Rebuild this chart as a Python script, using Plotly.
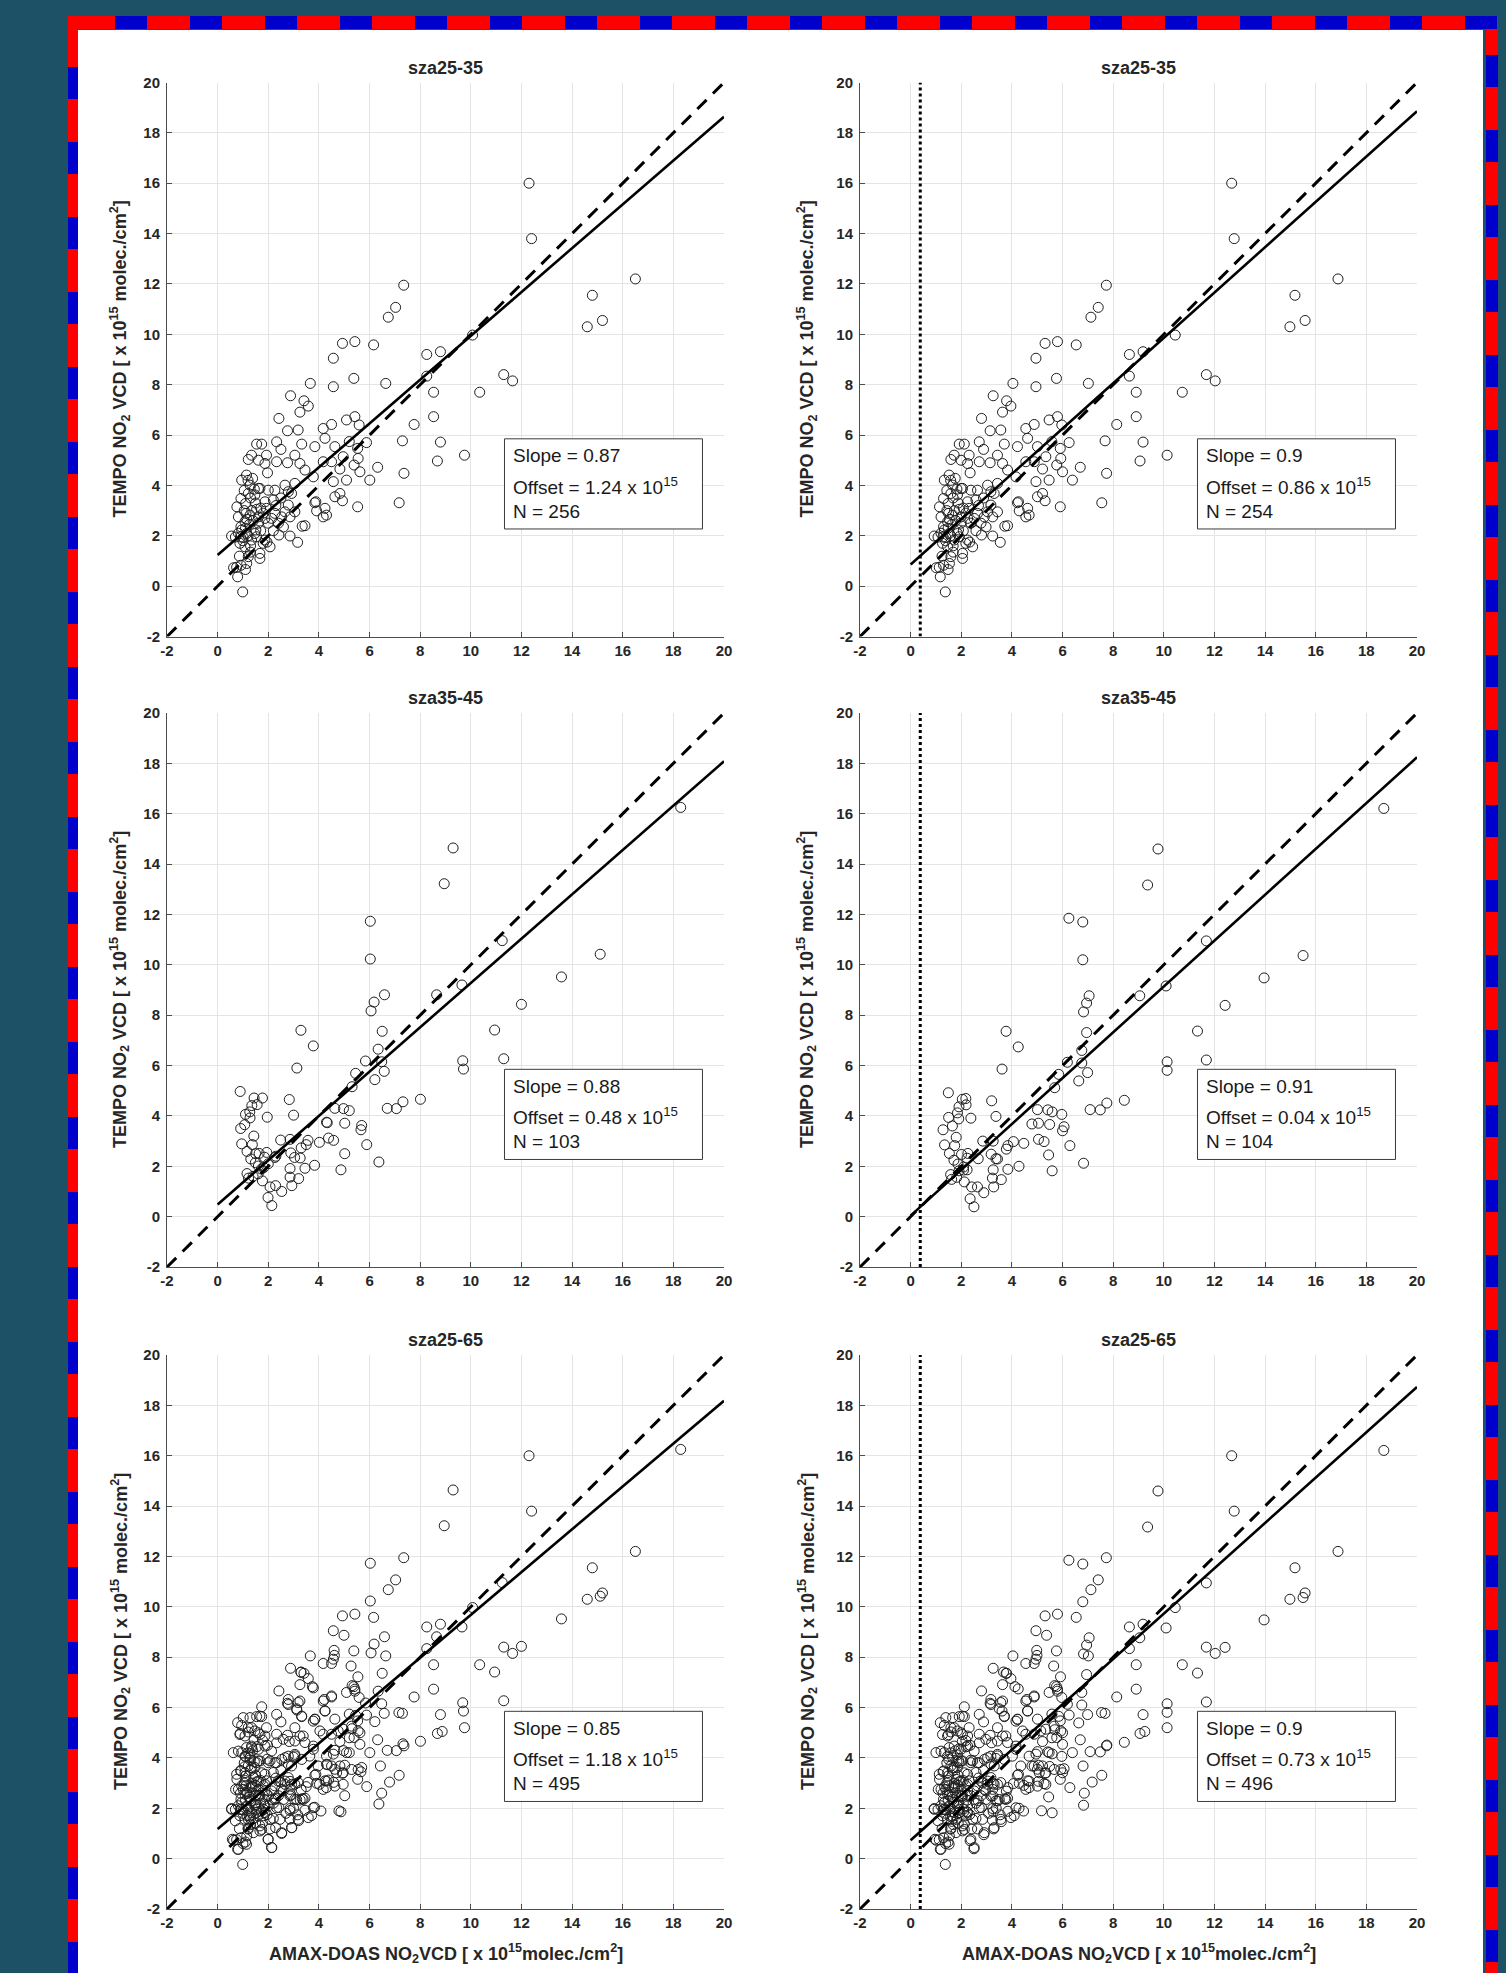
import plotly.graph_objects as go

# ---------------- data ----------------
AXIS_MIN, AXIS_MAX = -2, 20
AXIS_TICKS = [-2, 0, 2, 4, 6, 8, 10, 12, 14, 16, 18, 20]

PANEL_TITLES = ["sza25-35", "sza25-35", "sza35-45", "sza35-45", "sza25-65", "sza25-65"]
SLOPES = [0.87, 0.9, 0.88, 0.91, 0.85, 0.9]
OFFSETS = [1.24, 0.86, 0.48, 0.04, 1.18, 0.73]
SLOPE_TEXT = ["0.87", "0.9", "0.88", "0.91", "0.85", "0.9"]
OFFSET_TEXT = ["1.24", "0.86", "0.48", "0.04", "1.18", "0.73"]
N_TEXT = ["256", "254", "103", "104", "495", "496"]

# vertical dotted line (AMAX-DOAS offset) shown in the right-hand column
AMAX_OFFSET_RIGHT = 0.38

# sza 25-35 : (AMAX-DOAS, TEMPO)
sza25_35_pts = [
    (12.30, 16.00), (12.40, 13.80), (16.50, 12.20), (14.80, 11.55), (15.20, 10.55), (14.60, 10.30),
    (7.35, 11.95), (7.03, 11.07), (6.74, 10.68), (10.07, 9.97), (8.26, 9.20), (8.80, 9.31), (11.30, 8.40),
    (11.65, 8.15), (10.35, 7.70), (8.26, 8.34), (8.53, 7.70), (8.53, 6.73), (8.80, 5.72), (8.68, 4.97),
    (9.75, 5.20), (7.76, 6.42), (7.30, 5.77), (7.36, 4.48), (7.17, 3.31), (6.64, 8.05), (6.16, 9.58),
    (5.42, 9.71), (4.93, 9.64), (4.57, 9.05), (5.38, 8.25), (4.57, 7.92), (3.66, 8.05), (2.88, 7.56),
    (3.41, 7.36), (3.58, 7.15), (3.25, 6.91), (2.42, 6.66),
    (5.42, 6.73), (5.09, 6.60), (5.59, 6.40), (6.32, 4.72), (6.01, 4.21), (5.88, 5.70), (5.53, 5.47),
    (5.55, 5.07), (5.62, 4.54), (5.39, 4.81), (5.53, 3.15), (4.93, 3.39), (4.83, 3.68), (4.63, 3.55),
    (4.24, 3.09), (4.30, 2.82), (4.17, 2.75), (3.91, 2.99), (3.88, 3.35), (3.45, 2.40), (3.16, 1.74),
    (2.86, 1.99), (2.42, 2.03), (3.34, 2.38),
    (4.17, 4.94), (4.24, 5.87), (4.17, 6.26), (4.50, 6.42), (4.63, 5.54), (4.50, 4.94), (4.57, 4.15),
    (4.83, 4.65), (4.96, 5.14), (5.20, 5.74), (5.09, 4.21), (3.84, 5.54), (3.78, 4.34), (3.84, 3.31),
    (2.76, 6.17), (3.18, 6.20), (2.33, 5.73), (2.50, 5.43), (2.33, 4.94), (2.76, 4.90), (3.05, 5.20),
    (3.32, 5.64), (3.25, 4.87), (3.45, 4.61), (2.92, 3.68), (3.05, 4.08), (2.66, 4.01), (2.79, 3.75),
    (2.79, 3.22), (2.53, 2.75), (2.86, 2.75), (3.05, 2.95), (2.66, 2.95), (2.26, 2.89), (2.13, 2.69),
    (1.93, 3.09),
    (0.99, -0.23), (0.79, 0.37), (0.63, 0.73), (1.10, 0.66), (0.92, 0.83), (0.86, 1.19), (1.21, 1.17),
    (1.67, 1.10), (1.67, 1.30), (0.55, 1.99), (0.82, 2.10), (1.01, 1.93), (1.14, 2.09), (0.88, 1.70),
    (1.08, 1.56), (1.34, 1.83), (1.54, 1.96), (1.51, 2.23), (1.87, 1.83), (2.07, 1.56), (1.08, 2.56),
    (0.82, 2.75), (1.28, 2.82), (1.61, 2.75), (1.87, 2.69), (1.54, 3.05), (1.10, 3.28), (0.92, 3.48),
    (1.21, 3.68), (1.61, 3.88), (2.00, 3.81), (2.26, 3.81), (2.20, 3.42), (1.87, 3.35), (0.95, 4.21),
    (1.14, 4.41), (1.38, 4.28), (1.28, 4.01), (1.21, 5.03), (1.34, 5.20), (1.61, 5.00), (1.87, 4.87),
    (1.93, 5.20), (1.54, 5.64), (1.74, 5.64), (1.97, 4.50), (1.67, 3.88), (1.47, 3.62), (1.12, 2.89),
    (0.76, 3.15), (0.92, 2.36), (1.47, 2.09), (0.95, 2.23),
    (1.00, 1.80), (1.20, 2.00), (1.30, 1.60), (0.90, 1.95), (1.10, 2.30), (1.25, 2.45), (1.40, 2.60),
    (1.60, 2.50), (1.70, 2.20), (1.15, 2.65), (1.35, 3.00), (1.50, 3.30), (1.05, 3.00), (1.30, 3.50),
    (1.45, 3.85), (1.20, 4.20), (1.05, 3.80), (1.70, 3.10), (1.80, 2.90), (2.00, 2.50), (2.20, 2.20),
    (2.40, 2.50), (2.60, 2.35), (2.30, 3.20), (2.50, 3.50), (1.80, 1.70), (1.95, 1.75), (0.75, 0.75),
    (1.15, 0.90), (1.30, 1.35), (0.70, 1.95),
]

# sza 35-45, left column
sza35_45_pts = [
    (18.29, 16.25), (9.30, 14.64), (8.95, 13.22), (6.03, 11.73), (6.03, 10.23), (11.24, 10.96),
    (15.11, 10.42), (13.58, 9.52), (9.65, 9.20), (8.65, 8.81), (6.59, 8.81), (6.18, 8.52), (6.06, 8.17),
    (12.00, 8.43), (10.94, 7.41), (6.50, 7.36), (3.29, 7.40), (3.78, 6.78), (6.34, 6.65), (3.13, 5.90),
    (5.84, 6.18), (6.48, 6.15), (9.68, 6.19), (9.71, 5.86), (11.30, 6.27), (6.58, 5.77), (5.45, 5.69),
    (6.21, 5.44), (5.31, 5.16),
    (6.70, 4.30), (7.06, 4.29), (7.32, 4.56), (8.01, 4.66), (4.63, 4.30), (4.97, 4.29), (5.20, 4.21),
    (5.02, 3.71), (4.30, 3.75), (5.69, 3.62), (5.66, 3.45), (4.38, 3.12), (4.58, 3.03), (4.02, 2.95),
    (5.89, 2.86), (5.02, 2.50), (4.87, 1.86), (6.37, 2.17), (3.57, 3.03), (3.50, 2.86), (3.30, 2.73),
    (3.00, 4.03), (2.83, 4.65), (3.83, 2.04), (3.45, 1.92), (3.20, 1.51), (2.93, 1.23), (2.86, 1.57),
    (2.86, 1.91), (3.04, 2.35), (2.89, 2.53), (2.86, 3.07), (2.49, 3.04), (2.53, 1.00), (2.29, 1.23),
    (2.07, 1.18), (1.99, 0.76), (2.14, 0.44), (1.96, 3.95), (1.85, 2.36), (1.94, 2.55), (1.77, 4.71),
    (1.56, 4.45), (1.44, 4.71), (1.35, 4.41), (1.27, 4.16), (1.10, 4.06), (1.28, 3.92), (1.07, 3.65),
    (0.91, 3.50), (0.89, 4.97), (0.95, 2.89), (1.43, 3.20), (1.37, 2.86), (1.16, 2.59), (1.31, 2.29),
    (1.64, 2.51), (1.49, 2.14), (1.61, 2.01), (1.82, 1.95), (1.16, 1.71), (1.22, 1.53), (1.40, 1.60),
    (1.77, 1.42), (1.73, 1.89), (2.26, 2.35), (3.26, 2.33), (4.33, 3.73), (1.60, 1.70), (2.00, 2.10),
    (2.30, 2.40), (1.50, 2.50),
]

# sza 35-45, right column (read separately: individual points differ)
sza35_45_right_pts = [
    (18.69, 16.21), (9.77, 14.60), (9.36, 13.17), (6.25, 11.85), (6.80, 11.70), (6.80, 10.20),
    (11.68, 10.95), (15.50, 10.37), (13.96, 9.48), (10.09, 9.16), (9.05, 8.77), (7.05, 8.77),
    (6.95, 8.48), (6.83, 8.13), (12.42, 8.39), (11.33, 7.37), (6.95, 7.31), (3.77, 7.36), (4.25, 6.74),
    (6.76, 6.60), (3.61, 5.86), (6.19, 6.13), (6.76, 6.10), (10.13, 6.15), (10.13, 5.81), (11.68, 6.22),
    (6.99, 5.72), (5.85, 5.65), (6.64, 5.39), (5.69, 5.12),
    (7.09, 4.25), (7.49, 4.24), (7.75, 4.51), (8.44, 4.62), (5.01, 4.25), (5.42, 4.24), (5.59, 4.16),
    (5.49, 3.66), (4.79, 3.68), (5.05, 3.71), (5.97, 4.06), (6.06, 3.57), (6.00, 3.41), (5.05, 3.07),
    (5.27, 2.98), (4.47, 2.91), (6.29, 2.82), (5.45, 2.45), (5.59, 1.82), (6.83, 2.12), (4.06, 2.98),
    (3.84, 2.82), (3.78, 2.68), (3.37, 3.98), (3.20, 4.60), (4.28, 2.00), (3.84, 1.88), (3.58, 1.47),
    (3.28, 1.18), (3.23, 1.53), (3.26, 1.86), (3.37, 2.30), (3.18, 2.48), (3.26, 3.00), (2.85, 3.00),
    (2.89, 0.95), (2.64, 1.18), (2.41, 1.18), (2.35, 0.71), (2.50, 0.39), (2.38, 3.91), (2.23, 2.32),
    (2.26, 2.51), (2.18, 4.69), (2.19, 4.44), (2.04, 4.66), (1.91, 4.36), (1.85, 4.12), (1.50, 3.94),
    (1.90, 3.88), (1.65, 3.60), (1.28, 3.45), (1.49, 4.92), (1.34, 2.85), (1.80, 3.15), (1.74, 2.82),
    (1.53, 2.51), (1.71, 2.24), (2.01, 2.47), (1.87, 2.09), (2.09, 1.97), (2.23, 1.86), (1.58, 1.67),
    (1.62, 1.48), (1.82, 1.56), (2.12, 1.38), (2.09, 1.85), (2.67, 2.30), (3.43, 2.29), (1.91, 1.82),
]

# remaining points of the sza 25-65 panels (sza 45-65)
sza45_65_pts = [
    (1.74, 6.03), (0.79, 5.40), (1.01, 5.60), (1.28, 5.60), (1.67, 5.66), (0.95, 5.29), (1.21, 5.20),
    (0.88, 4.93), (1.08, 4.87), (1.47, 5.07), (1.67, 4.93),
    (2.79, 6.32), (2.79, 6.12), (3.12, 5.95), (3.29, 7.41), (3.74, 6.83), (3.25, 6.26), (3.32, 5.66),
    (3.84, 5.53), (4.17, 7.75), (4.50, 7.75), (4.61, 8.07), (4.99, 8.87), (5.27, 7.65), (5.54, 7.22),
    (5.31, 6.87), (5.38, 6.83), (5.42, 6.65), (4.50, 6.46), (4.21, 6.32), (4.24, 5.86), (3.78, 5.46),
    (4.04, 5.07), (4.76, 5.07), (5.29, 5.26), (5.20, 4.80), (5.62, 5.00), (7.16, 5.80), (8.87, 5.05),
    (6.79, 3.04), (6.48, 2.60), (6.43, 3.68), (4.08, 1.89), (3.71, 1.71), (4.79, 1.90), (4.60, 8.27),
    (0.62, 4.21), (0.82, 4.27), (1.08, 4.07), (1.34, 4.47), (1.61, 4.34), (1.87, 4.47), (2.13, 4.27),
    (2.07, 3.88), (2.33, 3.81), (2.53, 3.94), (2.79, 4.07), (3.05, 4.14), (3.32, 3.94), (3.64, 4.07),
    (0.75, 3.35), (0.71, 2.75), (1.01, 2.75), (1.34, 2.88), (1.61, 3.08), (1.87, 2.95), (2.39, 3.08),
    (2.66, 3.08), (2.92, 2.95), (3.18, 3.02), (2.59, 2.69), (2.86, 2.49), (3.12, 2.35), (3.38, 2.35),
    (3.78, 2.02), (3.58, 1.63), (3.18, 1.56), (2.92, 1.23), (2.53, 1.03), (2.13, 0.44), (2.00, 0.77),
    (1.74, 1.16), (1.41, 1.03), (1.14, 0.57), (0.82, 0.37), (0.58, 0.77), (0.95, 1.96), (0.55, 1.96),
    (1.28, 1.69), (1.54, 1.83), (1.87, 2.09), (2.13, 2.35), (2.33, 2.02), (2.46, 1.56), (1.28, 2.35),
    (1.67, 2.49), (1.08, 3.41), (1.34, 3.61), (1.54, 3.81), (1.74, 3.41), (2.33, 4.60), (2.59, 4.74),
    (3.05, 4.67), (3.38, 4.87), (3.78, 4.47), (3.97, 3.68), (4.30, 4.07), (4.50, 3.68), (4.70, 3.41),
    (4.30, 3.08), (4.63, 2.88), (4.96, 2.95), (4.96, 3.41), (5.29, 3.54), (5.55, 3.54),
    (1.00, 0.60), (0.70, 1.50), (1.20, 1.20), (1.50, 1.40), (2.20, 1.60), (2.70, 1.80), (3.00, 2.00),
    (0.90, 2.60), (1.10, 3.10), (1.50, 2.90),
]


def shifted(pts, dx):
    return [(x + dx, y) for x, y in pts]


panel_points = [
    sza25_35_pts,
    shifted(sza25_35_pts, AMAX_OFFSET_RIGHT),
    sza35_45_pts,
    sza35_45_right_pts,
    sza25_35_pts + sza35_45_pts + sza45_65_pts,
    shifted(sza25_35_pts, AMAX_OFFSET_RIGHT) + sza35_45_right_pts + shifted(sza45_65_pts, AMAX_OFFSET_RIGHT),
]
right_column = [False, True, False, True, False, True]

# ---------------- layout geometry (pixels of the 1506 x 1973 page) ----------------
W, H = 1506, 1973
COL_X = [(167, 724), (860, 1417)]
ROW_Y = [(82.5, 636.5), (713, 1267), (1355, 1909)]
YLABEL_GAP = [47, 53]

FONT = "Liberation Sans, Arial, sans-serif"
TXT = "#262626"
AXC = "#4d4d4d"


def px_x(p):
    return p / W


def px_y(p):
    return 1 - p / H


fig = go.Figure()
layout_axes = {}
annotations = []
shapes = []

for i in range(6):
    row, col = divmod(i, 2)
    n = i + 1
    xs = "" if n == 1 else str(n)
    xa, ya = "x" + xs, "y" + xs
    cx0, cx1 = COL_X[col]
    ry0, ry1 = ROW_Y[row]

    common = dict(
        range=[AXIS_MIN, AXIS_MAX], tickmode="array", tickvals=AXIS_TICKS,
        ticktext=[str(t) for t in AXIS_TICKS],
        ticks="inside", ticklen=5, tickwidth=1, tickcolor=AXC,
        showline=True, linecolor=AXC, linewidth=1, mirror=False,
        showgrid=True, gridcolor="#e4e4e4", gridwidth=1, zeroline=False,
        tickfont=dict(family=FONT, size=15, color=TXT, weight="bold"),
        fixedrange=True, automargin=False,
    )
    layout_axes["xaxis" + xs] = dict(common, domain=[px_x(cx0), px_x(cx1)], anchor=ya,
                                     ticklabelstandoff=0)
    layout_axes["yaxis" + xs] = dict(common, domain=[px_y(ry1), px_y(ry0)], anchor=xa,
                                     ticklabelstandoff=3)

    pts = panel_points[i]
    fig.add_trace(go.Scatter(
        x=[p[0] for p in pts], y=[p[1] for p in pts], mode="markers",
        marker=dict(symbol="circle-open", size=10, color="#1e1e1e", line=dict(width=1)),
        xaxis=xa, yaxis=ya, showlegend=False, hoverinfo="skip"))

    # 1:1 line
    fig.add_trace(go.Scatter(
        x=[AXIS_MIN, AXIS_MAX], y=[AXIS_MIN, AXIS_MAX], mode="lines",
        line=dict(color="black", width=3, dash="13px,9px"),
        xaxis=xa, yaxis=ya, showlegend=False, hoverinfo="skip"))
    # regression line
    fig.add_trace(go.Scatter(
        x=[0, AXIS_MAX], y=[OFFSETS[i], SLOPES[i] * AXIS_MAX + OFFSETS[i]], mode="lines",
        line=dict(color="black", width=2.6),
        xaxis=xa, yaxis=ya, showlegend=False, hoverinfo="skip"))
    if right_column[i]:
        fig.add_trace(go.Scatter(
            x=[AMAX_OFFSET_RIGHT, AMAX_OFFSET_RIGHT], y=[AXIS_MIN, AXIS_MAX], mode="lines",
            line=dict(color="black", width=3, dash="dot"),
            xaxis=xa, yaxis=ya, showlegend=False, hoverinfo="skip"))

    # statistics box
    shapes.append(dict(type="rect", xref=xa, yref=ya, x0=11.33, x1=19.15, y0=2.27, y1=5.85,
                       line=dict(color="#3c3c3c", width=1), fillcolor="white", layer="above"))
    box_font = dict(family=FONT, size=19, color="#1a1a1a")
    for txt, yy in [("Slope = " + SLOPE_TEXT[i], 5.18),
                    ("Offset = " + OFFSET_TEXT[i] + " x 10<sup>15</sup>", 3.98),
                    ("N = " + N_TEXT[i], 2.97)]:
        annotations.append(dict(xref=xa, yref=ya, x=11.6, y=yy, text=txt, showarrow=False,
                                xanchor="left", yanchor="middle", font=box_font))

    # panel title
    annotations.append(dict(xref="paper", yref="paper", x=px_x((cx0 + cx1) / 2), y=px_y(ry0 - 15),
                            text=PANEL_TITLES[i], showarrow=False, xanchor="center", yanchor="middle",
                            font=dict(family=FONT, size=18, color=TXT, weight="bold")))
    # y-axis title
    annotations.append(dict(xref="paper", yref="paper", x=px_x(cx0 - YLABEL_GAP[col]),
                            y=px_y((ry0 + ry1) / 2),
                            text="TEMPO NO<sub>2</sub> VCD [ x 10<sup>15</sup> molec./cm<sup>2</sup>]",
                            textangle=-90, showarrow=False, xanchor="center", yanchor="middle",
                            font=dict(family=FONT, size=18, color=TXT, weight="bold")))
    if row == 2:
        annotations.append(dict(xref="paper", yref="paper", x=px_x((cx0 + cx1) / 2), y=px_y(1953),
                                text="AMAX-DOAS NO<sub>2</sub>VCD [ x 10<sup>15</sup>molec./cm<sup>2</sup>]",
                                showarrow=False, xanchor="center", yanchor="middle",
                                font=dict(family=FONT, size=18, color=TXT, weight="bold")))

# ---------------- page frame: white sheet + red/blue striped border ----------------
RED, BLUE = "#ff0000", "#0000cc"
RED_LEN, BLUE_LEN = 43, 32
PERIOD = RED_LEN + BLUE_LEN


def rect_px(x0, x1, y0, y1, color):
    return dict(type="rect", xref="paper", yref="paper", x0=px_x(x0), x1=px_x(x1),
                y0=px_y(y1), y1=px_y(y0), fillcolor=color, line=dict(width=0), layer="below")


frame = [rect_px(78, 1483, 30, H + 5, "white")]


def stripes_vertical(xa0, xa1, start, y_from, y_to):
    out = [rect_px(xa0, xa1, y_from, y_to, BLUE)]
    k = start - PERIOD * ((start - y_from) // PERIOD + 1)
    while k < y_to:
        a, b = max(k, y_from), min(k + RED_LEN, y_to)
        if b > a:
            out.append(rect_px(xa0, xa1, a, b, RED))
        k += PERIOD
    return out


def stripes_horizontal(ya0, ya1, start, x_from, x_to):
    out = [rect_px(x_from, x_to, ya0, ya1, BLUE)]
    k = start - PERIOD * ((start - x_from) // PERIOD + 1)
    while k < x_to:
        a, b = max(k, x_from), min(k + RED_LEN, x_to)
        if b > a:
            out.append(rect_px(a, b, ya0, ya1, RED))
        k += PERIOD
    return out


frame += stripes_vertical(68, 78, 24, 16, H + 5)        # left
frame += stripes_vertical(1486, 1498, 12, 16, H + 5)    # right
frame += stripes_horizontal(16, 29, 72, 68, 1498)       # top
frame.append(rect_px(68, 78, 16, 29, RED))              # top-left corner

fig.update_layout(
    width=W, height=H, margin=dict(l=0, r=0, t=0, b=0, pad=0, autoexpand=False),
    paper_bgcolor="#1c5166", plot_bgcolor="white",
    showlegend=False, annotations=annotations, shapes=frame + shapes,
    **layout_axes,
)

fig.write_html("out.html", config={"displayModeBar": False},
               post_script="document.body.style.margin='0px';")
